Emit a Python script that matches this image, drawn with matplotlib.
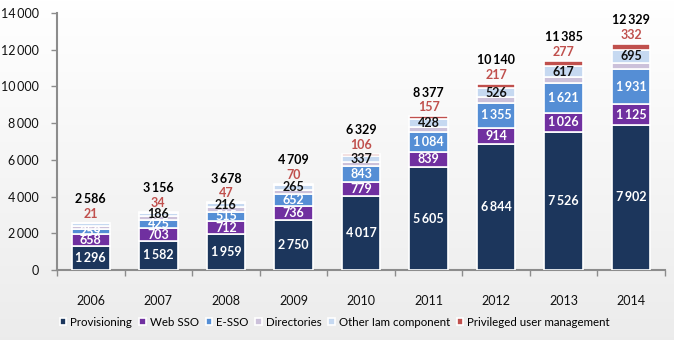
import numpy as np
import matplotlib.pyplot as plt

years = ['2006', '2007', '2008', '2009', '2010', '2011', '2012', '2013', '2014']
provisioning = [1296, 1582, 1959, 2750, 4017, 5605, 6844, 7526, 7902]
web_sso = [658, 703, 712, 736, 779, 839, 914, 1026, 1125]
e_sso = [259, 425, 515, 652, 843, 1084, 1355, 1621, 1931]
directories = [200, 226, 229, 236, 247, 264, 284, 318, 344]
other_iam = [152, 186, 216, 265, 337, 428, 526, 617, 695]
privileged = [21, 34, 47, 70, 106, 157, 217, 277, 332]
totals = [2586, 3156, 3678, 4709, 6329, 8377, 10140, 11385, 12329]

series = [
    ('Provisioning', provisioning, '#1c365c', 'white'),
    ('Web SSO', web_sso, '#7030a0', 'white'),
    ('E-SSO', e_sso, '#558ed5', 'white'),
    ('Directories', directories, '#ccc1da', None),
    ('Other Iam component', other_iam, '#c6d9f1', '#111111'),
    ('Privileged user management', privileged, '#c0504d', None),
]

plt.rcParams['font.family'] = ['Lato', 'DejaVu Sans']


def fmt(v):
    return f'{v:,}'.replace(',', '\u2009')


fig = plt.figure(figsize=(6.74, 3.4), dpi=100)

# soft vertical gradient behind everything
bg = fig.add_axes((0, 0, 1, 1), zorder=-10)
grad = np.linspace(1.0, 0.925, 256).reshape(-1, 1)
bg.imshow(np.dstack([grad, grad, grad]), aspect='auto', extent=(0, 1, 0, 1))
bg.axis('off')

ax = fig.add_axes((57 / 674, 70 / 340, 608 / 674, 257 / 340))
ax.patch.set_alpha(0)

x = np.arange(len(years))
width = 0.57
bottom = np.zeros(len(years))
for name, vals, color, txt in series:
    vals = np.array(vals)
    ax.bar(x, vals, width, bottom=bottom, color=color, edgecolor='white',
           linewidth=1.2, label=name, zorder=3)
    if txt is not None:
        for i, v in enumerate(vals):
            if name == 'Other Iam component' and i == 0:
                continue
            ax.text(x[i], bottom[i] + v / 2, fmt(v), ha='center', va='center',
                    color=txt, fontsize=9, fontweight='bold', zorder=4)
    bottom += vals

# privileged value and total above each bar
for i in range(len(years)):
    ax.annotate(fmt(privileged[i]), (x[i], bottom[i]), xytext=(0, 6.5),
                textcoords='offset points', ha='center', va='center',
                color='#c0504d', fontsize=9, fontweight='bold')
    ax.annotate(fmt(totals[i]), (x[i], bottom[i]), xytext=(0, 17),
                textcoords='offset points', ha='center', va='center',
                color='black', fontsize=9, fontweight='bold')

ax.set_xlim(-0.5, len(years) - 0.5)
ax.set_ylim(0, 14000)
ax.set_yticks(range(0, 14001, 2000))
ax.set_yticklabels([fmt(v) for v in range(0, 14001, 2000)])
ax.set_xticks(np.arange(len(years) + 1) - 0.5)
ax.set_xticklabels([])
ax.set_xticks(x, minor=True)
ax.set_xticklabels(years, minor=True)
ax.tick_params(axis='x', which='minor', length=0, pad=18, labelsize=9,
               labelcolor='#111111')
ax.tick_params(axis='x', which='major', length=4, color='#8c8c8c', width=1)
ax.tick_params(axis='y', length=4, color='#8c8c8c', width=1, labelsize=9,
               labelcolor='#111111', pad=9)
for side in ('top', 'right'):
    ax.spines[side].set_visible(False)
for side in ('left', 'bottom'):
    ax.spines[side].set_color('#8c8c8c')
    ax.spines[side].set_linewidth(1.5)

handles, labels = ax.get_legend_handles_labels()
fig.legend(handles, labels, loc='center', bbox_to_anchor=(0.497, 0.052),
           ncol=6, frameon=False, fontsize=8.3, handlelength=0.55,
           handleheight=0.55, handletextpad=0.35, columnspacing=0.6)

fig.savefig('out.png', dpi=100)
